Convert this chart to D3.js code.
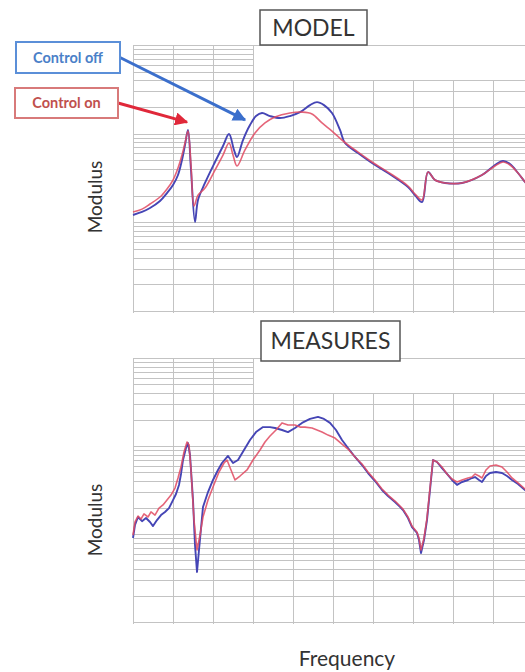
<!DOCTYPE html>
<html>
<head>
<meta charset="utf-8">
<script src="https://cdn.jsdelivr.net/npm/d3@7/dist/d3.min.js"></script>
<style>
  html, body { margin: 0; padding: 0; background: #fff; }
  svg { display: block; }
</style>
</head>
<body>
<svg id="chart" width="525" height="672"></svg>
<script>
// Frequency in grid units (one unit per vertical grid line), modulus on a log axis.
const freqGrid = [0, 1, 2, 3, 4, 5, 6, 7, 8, 9, 10];
const modulusDomain = [1, 1000];

// MODEL: computed frequency response
const modelOff = [
  [0,12.1],[0.225,13.1],[0.425,14.5],[0.675,17.4],[0.85,21.4],[1.0,26.4],[1.125,34.2],
  [1.225,50.5],[1.3,74.5],[1.375,110],[1.45,38.9],[1.55,10.1],[1.625,17.9],[1.8,27.8],
  [2.05,47.9],[2.25,72.6],[2.4,99.1],[2.525,65.5],[2.6,54.6],[2.75,84.8],[2.925,125],
  [3.075,158],[3.225,171],[3.425,158],[3.675,150],[3.925,158],[4.175,175],[4.425,210],
  [4.6,227],[4.775,210],[4.975,171],[5.175,110],[5.3,78.5],[5.625,60.5],[5.975,46.7],
  [6.375,36.0],[6.875,25.0],[7.05,20.3],[7.225,16.9],[7.375,36.9],[7.55,30.0],[7.8,27.8],
  [8.225,27.8],[8.725,34.2],[9.05,44.3],[9.25,49.2],[9.425,45.5],[9.625,36.0],[9.8,28.5],[10,22.0]
];
const modelOn = [
  [0,13.1],[0.225,14.1],[0.425,16.1],[0.675,19.3],[0.85,23.8],[1.0,30.0],[1.125,41.0],
  [1.225,57.4],[1.3,78.5],[1.375,107],[1.45,44.3],[1.525,15.3],[1.625,20.3],[1.8,24.4],
  [2.05,38.9],[2.25,57.4],[2.4,78.5],[2.5,57.4],[2.6,43.2],[2.8,65.5],[3.05,102],
  [3.3,132],[3.55,154],[3.925,171],[4.225,175],[4.475,167],[4.725,132],[4.975,107],
  [5.225,84.8],[5.55,65.5],[5.975,47.9],[6.375,36.9],[6.875,25.7],[7.05,20.9],[7.225,17.9],
  [7.375,36.9],[7.55,30.0],[7.8,27.8],[8.225,27.8],[8.725,34.2],[9.05,43.2],[9.25,47.9],
  [9.425,44.3],[9.625,36.0],[9.8,28.5],[10,22.0]
];

// MEASURES: test bench data
const measOff = [
  [0,9.01],[0.05,12.7],[0.125,15.6],[0.225,14.0],[0.325,15.2],[0.425,13.7],[0.5,12.3],
  [0.6,14.4],[0.7,16.4],[0.8,17.8],[0.9,19.7],[1.0,24.3],[1.075,28.5],[1.15,36.1],[1.2,48.1],
  [1.25,69.3],[1.325,94.9],[1.375,108],[1.425,79.0],[1.5,24.3],[1.55,7.50],[1.6,3.70],
  [1.65,6.58],[1.75,20.3],[1.875,30.0],[2.0,41.1],[2.125,53.4],[2.225,64.1],[2.375,77.0],
  [2.5,64.1],[2.625,69.3],[2.775,90.1],[2.925,117],[3.075,144],[3.25,164],[3.425,164],
  [3.55,160],[3.725,152],[3.875,144],[4.05,160],[4.225,183],[4.425,203],[4.625,214],
  [4.775,203],[4.925,183],[5.075,152],[5.225,117],[5.375,94.9],[5.55,75.0],[5.725,60.8],
  [5.875,49.3],[6.05,40.0],[6.225,31.6],[6.375,27.0],[6.55,23.1],[6.675,20.3],[6.75,18.7],
  [6.875,15.2],[6.975,12.0],[7.1,10.3],[7.15,8.55],[7.2,6.08],[7.275,8.55],[7.35,14.4],
  [7.425,31.6],[7.5,69.3],[7.6,65.8],[7.725,56.2],[7.85,48.1],[7.975,41.1],[8.1,36.1],
  [8.225,39.0],[8.375,41.1],[8.475,43.3],[8.55,44.4],[8.65,41.1],[8.725,39.0],[8.825,45.6],
  [8.925,49.3],[9.075,50.6],[9.225,49.3],[9.35,45.6],[9.475,41.1],[9.625,37.0],[9.8,31.6],[10,27.0]
];
const measOn = [
  [0,9.74],[0.05,13.7],[0.125,16.0],[0.2,14.8],[0.275,16.9],[0.375,15.6],[0.45,17.8],
  [0.55,16.4],[0.65,19.7],[0.75,21.4],[0.85,24.3],[0.95,27.7],[1.05,33.3],[1.125,43.3],
  [1.2,57.7],[1.275,85.5],[1.35,111],[1.4,103],[1.45,53.4],[1.525,14.4],[1.6,6.58],
  [1.675,9.74],[1.75,15.6],[1.875,24.3],[2.0,34.2],[2.15,50.6],[2.275,64.1],[2.35,69.3],
  [2.45,53.4],[2.55,41.1],[2.675,45.6],[2.85,53.4],[3.0,69.3],[3.175,90.1],[3.3,111],
  [3.425,130],[3.575,152],[3.725,183],[3.875,173],[4.05,173],[4.175,164],[4.3,164],
  [4.475,160],[4.725,144],[4.875,133],[5.05,123],[5.225,105],[5.375,92.4],[5.55,75.0],
  [5.725,62.4],[5.875,50.6],[6.05,41.1],[6.225,32.5],[6.375,27.7],[6.55,23.7],[6.675,20.8],
  [6.75,19.2],[6.875,15.6],[6.975,12.3],[7.1,10.5],[7.15,9.01],[7.2,6.58],[7.275,9.01],
  [7.35,15.2],[7.425,33.3],[7.5,69.3],[7.6,65.8],[7.725,57.7],[7.85,48.1],[7.975,42.2],
  [8.1,39.0],[8.225,41.1],[8.375,43.3],[8.475,44.4],[8.55,48.1],[8.65,45.6],[8.725,43.3],
  [8.825,53.4],[8.925,59.3],[9.075,60.8],[9.225,57.7],[9.35,50.6],[9.475,43.3],[9.625,38.0],
  [9.8,32.5],[10,27.7]
];

// Arrow targets for the legend callouts (frequency, modulus)
const offArrowTip = [2.8, 143];
const onArrowTip = [1.35, 135];

const colors = { off: "#4545b5", on: "#e04a62", grid: "#c3c3c3", text: "#333" };
const font = "Lato, 'Open Sans', sans-serif";

const svg = d3.select("#chart");

const panels = [
  { title: "MODEL", box: [260, 10, 107, 35], top: 45, bottom: 311,
    off: modelOff, on: modelOn, curve: d3.curveCatmullRom.alpha(0.5), labelY: 197 },
  { title: "MEASURES", box: [261, 321, 139, 40], top: 358, bottom: 622,
    off: measOff, on: measOn, curve: d3.curveLinear, labelY: 520 }
];

const x = d3.scaleLinear().domain([0, 10]).range([133, 533]);

panels.forEach(p => {
  const y = d3.scaleLog().domain(modulusDomain).range([p.bottom, p.top]);
  p.y = y;
  const g = svg.append("g");

  // horizontal log grid; the upper part of the top decade only spans the first three columns
  const yt = y.ticks();
  g.selectAll("line.h").data(yt).join("line")
    .attr("x1", x(0))
    .attr("x2", d => (d > 400 && d < 1000) ? x(3) : x(10))
    .attr("y1", d => Math.round(y(d)) + 0.5)
    .attr("y2", d => Math.round(y(d)) + 0.5)
    .attr("stroke", colors.grid).attr("stroke-width", 1);

  // vertical grid
  g.selectAll("line.v").data(freqGrid).join("line")
    .attr("x1", d => Math.round(x(d)) + 0.5)
    .attr("x2", d => Math.round(x(d)) + 0.5)
    .attr("y1", d => d <= 3 ? y(1000) : y(400))
    .attr("y2", y(1) + 2)
    .attr("stroke", colors.grid).attr("stroke-width", 1);

  // curves
  const line = d3.line().x(d => x(d[0])).y(d => y(d[1])).curve(p.curve);
  g.append("path").datum(p.off).attr("d", line)
    .attr("fill", "none").attr("stroke", colors.off).attr("stroke-width", 1.9)
    .attr("stroke-linejoin", "round");
  g.append("path").datum(p.on).attr("d", line)
    .attr("fill", "none").attr("stroke", colors.on).attr("stroke-width", 1.6)
    .attr("stroke-opacity", 0.85).attr("stroke-linejoin", "round");

  // title box
  const [bx, by, bw, bh] = p.box;
  g.append("rect").attr("x", bx).attr("y", by).attr("width", bw).attr("height", bh)
    .attr("fill", "#fff").attr("stroke", "#555").attr("stroke-width", 1.5);
  g.append("text").attr("x", bx + bw / 2).attr("y", by + bh / 2 + 8)
    .attr("text-anchor", "middle").attr("font-family", font).attr("font-size", 23)
    .attr("fill", colors.text).text(p.title);

  // y label
  g.append("text")
    .attr("transform", `translate(102,${p.labelY}) rotate(-90)`)
    .attr("text-anchor", "middle").attr("font-family", font).attr("font-size", 19)
    .attr("fill", colors.text).text("Modulus");
});

// x label
svg.append("text").attr("x", 347).attr("y", 666).attr("text-anchor", "middle")
  .attr("font-family", font).attr("font-size", 21).attr("fill", colors.text).text("Frequency");

// legend callouts with arrows
const defs = svg.append("defs");
[["off", "#3b6fcc"], ["on", "#e0283a"]].forEach(([k, c]) => {
  defs.append("marker").attr("id", "arrow-" + k)
    .attr("viewBox", "0 0 10 10").attr("refX", 9).attr("refY", 5)
    .attr("markerWidth", 4.4).attr("markerHeight", 4.4).attr("orient", "auto")
    .append("path").attr("d", "M0,0 L10,5 L0,10 z").attr("fill", c);
});

const yTop = panels[0].y;
const legend = [
  { text: "Control off", box: [16, 42, 104, 31], stroke: "#5b8fd8", fill: "#4a80c8",
    arrow: "#3b6fcc", key: "off", tip: offArrowTip },
  { text: "Control on", box: [15, 88, 103, 30], stroke: "#d87a7a", fill: "#c0504d",
    arrow: "#e0283a", key: "on", tip: onArrowTip }
];
legend.forEach(l => {
  const [bx, by, bw, bh] = l.box;
  svg.append("line")
    .attr("x1", bx + bw).attr("y1", by + bh / 2)
    .attr("x2", x(l.tip[0])).attr("y2", yTop(l.tip[1]))
    .attr("stroke", l.arrow).attr("stroke-width", 3)
    .attr("marker-end", `url(#arrow-${l.key})`);
  svg.append("rect").attr("x", bx).attr("y", by).attr("width", bw).attr("height", bh)
    .attr("fill", "#fff").attr("stroke", l.stroke).attr("stroke-width", 2);
  svg.append("text").attr("x", bx + bw / 2).attr("y", by + bh / 2 + 5)
    .attr("text-anchor", "middle").attr("font-family", font).attr("font-size", 14.5)
    .attr("font-weight", 700).attr("fill", l.fill).text(l.text);
});
</script>
</body>
</html>
